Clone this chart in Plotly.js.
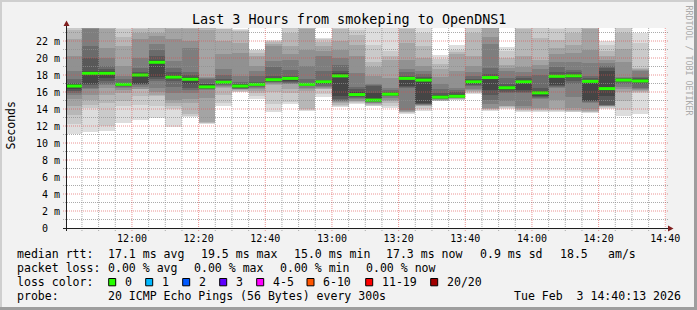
<!DOCTYPE html>
<html><head><meta charset="utf-8">
<script src="https://cdn.plot.ly/plotly-3.0.1.min.js"></script>
<style>html,body{margin:0;padding:0;background:#f2f2f2}#chart{width:697px;height:310px}</style>
</head><body><div id="chart"></div>
<script>
// ---- data ----
const firstColumnEnd = [2026, 1, 3, 11, 45, 0];   // UTC parts, step end of first column
const stepMinutes = 5;
const rangeStart = [2026, 1, 3, 11, 40, 13];
const rangeEnd = [2026, 1, 3, 14, 40, 13];

const medians = [16.7, 18.2, 18.2, 16.9, 18.0, 19.5, 17.75, 17.5, 16.6, 17.15, 16.7, 16.9,
  17.45, 17.6, 16.9, 17.2, 17.9, 15.7, 15.05, 15.75, 17.6, 17.4, 15.4, 15.5,
  17.2, 17.7, 16.5, 17.2, 15.9, 17.85, 17.9, 17.25, 16.4, 17.4, 17.3];

// 20 sorted ping times (ms) per 5-minute step
const pings = [
  [11.1,12.2,13.3,14.4,15.2,15.6,15.9,16.1,16.3,16.55,16.85,17.0,17.1,17.5,18.5,20.2,22.2,23.3,23.5,24.0],
  [11.3,14.1,14.5,15.1,15.6,16.3,16.5,16.8,16.9,18.1,18.3,18.5,20.0,21.4,23.4,23.6,23.8,24.0,24.5,25.0],
  [11.45,12.0,14.75,15.6,16.5,16.8,17.0,17.3,17.6,18.1,18.3,18.5,18.7,19.1,20.0,21.2,23.4,23.6,23.8,24.2],
  [12.4,14.35,15.0,15.9,16.2,16.5,16.6,16.7,16.75,16.8,17.0,17.05,17.1,17.5,17.9,19.1,21.4,22.5,23.4,24.0],
  [12.65,14.5,15.5,16.3,16.4,16.6,16.8,16.9,17.0,17.9,18.1,18.2,18.4,18.8,20.0,22.2,23.0,23.4,23.6,24.0],
  [12.9,14.35,15.5,15.7,16.0,16.5,17.3,17.5,17.8,19.4,19.6,19.8,20.2,21.0,21.6,22.6,23.0,23.5,23.8,24.2],
  [11.9,14.0,14.35,14.7,15.1,15.9,16.6,17.3,17.5,17.7,17.8,18.0,18.3,18.8,19.6,22.2,23.4,23.6,23.8,24.0],
  [13.1,13.2,13.4,14.75,15.2,15.9,16.2,16.5,16.9,17.45,17.6,17.8,18.0,18.3,21.2,22.0,23.4,23.6,23.8,24.0],
  [12.2,12.3,12.4,12.5,15.3,16.2,16.35,16.4,16.45,16.5,16.7,16.9,17.0,17.5,17.6,17.8,23.3,23.5,23.8,24.0],
  [14.4,14.75,15.6,16.5,16.6,16.7,16.8,16.9,17.0,17.1,17.2,17.35,17.5,18.0,18.7,20.5,22.0,23.4,23.45,23.7],
  [15.95,16.0,16.1,16.2,16.3,16.35,16.4,16.45,16.5,16.6,16.8,16.9,17.0,17.2,17.9,20.6,21.8,23.2,23.3,23.4],
  [15.2,15.5,15.9,16.1,16.3,16.5,16.6,16.7,16.8,16.85,16.95,17.1,17.2,17.9,18.5,19.1,20.2,20.6,20.9,21.0],
  [13.6,14.6,16.0,16.8,17.0,17.1,17.15,17.2,17.3,17.4,17.5,17.6,17.9,19.0,19.6,21.4,21.7,21.9,22.0,22.1],
  [14.6,14.8,15.9,16.4,16.9,17.0,17.1,17.2,17.3,17.5,17.7,17.8,17.9,18.6,19.8,20.5,21.4,23.0,23.5,24.0],
  [13.8,13.9,14.0,16.1,16.3,16.5,16.7,16.75,16.8,16.85,16.95,17.0,17.1,17.5,19.1,21.0,23.4,23.6,23.8,24.0],
  [15.4,15.8,16.3,16.4,16.5,16.6,16.7,16.9,17.0,17.15,17.25,17.3,17.4,18.5,20.2,20.8,21.4,21.9,22.2,22.4],
  [14.2,14.3,14.5,14.75,14.8,14.9,15.0,15.2,15.5,17.8,18.0,18.2,18.5,19.2,20.0,21.0,22.0,23.4,23.6,24.0],
  [14.6,14.7,14.8,14.9,15.0,15.2,15.3,15.4,15.5,15.6,15.8,16.0,16.3,16.6,18.2,20.2,21.5,22.7,23.3,23.8],
  [14.3,14.4,14.5,14.6,14.7,14.75,14.8,14.9,14.95,15.0,15.1,15.9,16.7,16.8,17.0,17.9,18.9,19.5,21.5,24.0],
  [14.15,14.3,14.75,14.9,15.1,15.3,15.5,15.55,15.6,15.7,15.8,15.9,16.0,16.2,16.5,17.7,19.8,20.2,20.8,24.0],
  [13.4,13.5,13.6,13.7,13.8,13.9,16.5,16.6,16.7,17.5,17.7,17.8,17.9,18.3,18.7,19.8,21.8,23.4,23.6,24.0],
  [13.75,14.0,14.35,14.4,14.45,14.5,14.55,14.6,14.7,17.3,17.5,17.6,17.8,18.1,18.5,19.1,20.0,21.4,23.0,24.0],
  [14.9,14.95,15.0,15.05,15.1,15.15,15.2,15.25,15.3,15.35,15.45,15.6,15.9,16.3,16.9,17.8,18.7,19.3,19.9,20.35],
  [15.05,15.1,15.15,15.2,15.25,15.3,15.35,15.4,15.45,15.5,15.6,15.8,16.0,16.2,16.5,18.5,20.5,20.7,21.0,21.5],
  [15.8,15.9,16.0,16.1,16.2,16.4,16.7,16.8,16.9,17.1,17.3,17.4,17.5,17.9,18.3,19.1,20.2,23.0,23.5,24.0],
  [13.8,13.9,14.0,14.05,14.1,14.6,15.1,15.6,16.2,17.6,17.8,17.9,18.1,18.8,21.6,22.5,23.5,23.7,23.9,24.2],
  [14.0,14.1,14.2,14.3,14.4,15.0,15.9,16.0,16.2,16.4,16.6,16.7,16.9,17.7,18.5,18.8,19.2,20.0,20.8,21.3],
  [13.7,13.8,13.9,14.0,14.1,14.4,15.9,16.0,16.2,17.1,17.3,17.4,17.6,17.9,18.4,18.9,20.2,23.4,23.6,24.0],
  [13.7,13.8,13.9,14.0,14.1,15.2,15.3,15.4,15.5,15.85,15.95,16.1,16.5,18.0,18.7,19.2,19.8,22.4,23.5,24.0],
  [13.7,13.8,13.9,14.0,15.1,16.5,16.6,16.7,16.8,17.8,17.9,18.0,18.3,19.0,19.5,20.5,21.2,22.1,23.4,24.0],
  [13.6,13.7,13.8,13.9,14.1,15.45,17.0,17.3,17.6,17.85,17.95,18.1,18.3,18.6,19.5,20.55,21.5,22.9,23.5,24.0],
  [13.5,13.6,13.7,13.8,14.0,14.75,14.8,14.9,15.0,17.2,17.3,17.4,17.6,17.9,19.4,21.0,23.4,23.6,23.8,24.0],
  [14.0,14.1,14.2,14.3,14.35,14.4,14.45,14.5,15.5,16.35,16.45,18.5,18.8,19.1,19.45,19.8,20.2,20.8,21.5,22.0],
  [13.2,13.9,15.0,16.0,16.3,16.6,17.0,17.2,17.3,17.35,17.45,17.5,17.6,17.7,17.8,19.5,21.1,22.9,23.5,24.0],
  [13.4,15.9,16.0,16.1,16.2,16.3,16.5,17.0,17.2,17.25,17.35,17.5,17.6,17.8,18.5,18.6,18.7,18.8,21.8,23.0]
];

const yTickVals = [0, 2, 4, 6, 8, 10, 12, 14, 16, 18, 20, 22];
const yTickText = ['0  ', '2 m', '4 m', '6 m', '8 m', '10 m', '12 m', '14 m', '16 m', '18 m', '20 m', '22 m'];
const yMax = 23.53;

const lossLabels = ['0', '1', '2', '3', '4-5', '6-10', '11-19', '20/20'];
const lossColors = ['#26ff00', '#00b8ff', '#0059ff', '#5e00ff', '#ff00ff', '#ff5500', '#ff0000', '#a10000'];
const medianColor = '#26ff00';

const titleText = 'Last 3 Hours from smokeping to OpenDNS1';
const statRows = [
  ['median rtt:', '17.1 ms avg', '19.5 ms max', '15.0 ms min', '17.3 ms now', '0.9 ms sd', '18.5', 'am/s'],
  ['packet loss:', '0.00 % avg', '0.00 % max', '0.00 % min', '0.00 % now'],
  ['loss color:'],
  ['probe:', '20 ICMP Echo Pings (56 Bytes) every 300s', 'Tue Feb  3 14:40:13 2026']
];

// ---- layout helpers (pixel -> paper) ----
const L = 66, T = 28, W = 600, H = 200;
const px = x => (x - L) / W;
const py = y => (T + H - y) / H;
const nb = s => s.replace(/ /g, '\u00a0');
const MONO = 'DejaVu Sans Mono';
const utc = a => Date.UTC(a[0], a[1], a[2], a[3], a[4], a[5]);

const stepMs = stepMinutes * 60000;
const end0 = utc(firstColumnEnd);
const centers = pings.map((_, i) => end0 + i * stepMs - stepMs / 2);

// smoke: band k spans ping k .. ping (21-k), darker toward the middle
const traces = [];
const half = 10;
for (let k = 1; k <= half; k++) {
  const c = Math.floor(190 / half * (half - k)) + 50;
  const hex = c.toString(16).padStart(2, '0');
  traces.push({
    type: 'bar', x: centers, base: pings.map(p => p[k - 1]),
    y: pings.map(p => p[20 - k] - p[k - 1]),
    width: pings.map(() => stepMs),
    marker: { color: '#' + hex + hex + hex, line: { width: 0 } },
    hoverinfo: 'skip'
  });
}
// median segments
const mx = [], my = [];
medians.forEach((m, i) => {
  mx.push(centers[i] - stepMs / 2, centers[i] + stepMs / 2, null);
  my.push(m, m, null);
});
traces.push({ type: 'scatter', mode: 'lines', x: mx, y: my, line: { color: medianColor, width: 3 }, hoverinfo: 'skip' });

// ---- grid (drawn above the smoke, like rrdtool) ----
const shapes = [];
const minorCol = 'rgba(143,143,143,0.75)', majorCol = 'rgba(222,79,79,0.6)';
for (let v = 1; v <= 23; v++) {
  shapes.push({ type: 'line', layer: 'above', xref: 'paper', yref: 'y', x0: px(63), x1: px(669), y0: v, y1: v,
    line: { color: v % 2 === 0 ? majorCol : minorCol, width: 1, dash: '1px,1px' } });
}
const t0 = utc(rangeStart), t1 = utc(rangeEnd);
for (let t = end0; t <= t1; t += stepMs) {
  const min = new Date(t).getUTCMinutes();
  shapes.push({ type: 'line', layer: 'above', xref: 'x', yref: 'paper', x0: t, x1: t, y0: py(231), y1: 1,
    line: { color: min % 20 === 0 ? majorCol : minorCol, width: 1, dash: '1px,1px' } });
}
// axes + arrows
const axisCol = '#1f1f1f', arrowCol = '#801f1f';
shapes.push({ type: 'line', layer: 'above', xref: 'paper', yref: 'paper', x0: px(66.5), x1: px(66.5), y0: py(231), y1: py(24), line: { color: axisCol, width: 1 } });
shapes.push({ type: 'line', layer: 'above', xref: 'paper', yref: 'paper', x0: px(63), x1: px(669), y0: py(228.5), y1: py(228.5), line: { color: axisCol, width: 1 } });
shapes.push({ type: 'path', layer: 'above', xref: 'paper', yref: 'paper',
  path: `M${px(66.5)},${py(20.5)} L${px(63.5)},${py(26)} L${px(69.5)},${py(26)} Z`, fillcolor: arrowCol, line: { width: 0 } });
shapes.push({ type: 'path', layer: 'above', xref: 'paper', yref: 'paper',
  path: `M${px(673.5)},${py(228.5)} L${px(668)},${py(225.5)} L${px(668)},${py(231.5)} Z`, fillcolor: arrowCol, line: { width: 0 } });
// image frame
shapes.push({ type: 'rect', xref: 'paper', yref: 'paper', x0: px(0), x1: px(697), y0: py(0), y1: py(2), fillcolor: '#cfcfcf', line: { width: 0 } });
shapes.push({ type: 'rect', xref: 'paper', yref: 'paper', x0: px(0), x1: px(2), y0: py(0), y1: py(310), fillcolor: '#cfcfcf', line: { width: 0 } });
shapes.push({ type: 'rect', xref: 'paper', yref: 'paper', x0: px(694), x1: px(697), y0: py(0), y1: py(310), fillcolor: '#9e9e9e', line: { width: 0 } });
shapes.push({ type: 'rect', xref: 'paper', yref: 'paper', x0: px(0), x1: px(697), y0: py(307), y1: py(310), fillcolor: '#9e9e9e', line: { width: 0 } });

// ---- texts ----
const FS = 11.55;
const annotations = [];
function txt(s, x, y, opts) {
  annotations.push(Object.assign({ text: nb(s), xref: 'paper', yref: 'paper', x: px(x), y: py(y), xanchor: 'left', yanchor: 'middle',
    showarrow: false, borderpad: 0, font: { family: MONO, size: FS, color: '#000' } }, opts || {}));
}
txt(titleText, 348.5, 19, { xanchor: 'center', font: { family: MONO, size: 13.4, color: '#000' } });
txt('Seconds', 10.5, 126, { xanchor: 'center', textangle: -90, font: { family: MONO, size: 11.5, color: '#000' } });
txt('RRDTOOL / TOBI OETIKER', 688.5, 60, { xanchor: 'center', textangle: 90, font: { family: MONO, size: 8.3, color: '#aaaaaa' } });

const rowY = [254.3, 268, 282, 295.7];
const rowX = [
  [16, 107.3, 200.3, 293.3, 385.7, 479.3, 559, 607.3],
  [16, 107.3, 193.3, 279.3, 365],
  [16],
  [16, 107.3, 513.3]
];
statRows.forEach((row, r) => row.forEach((s, j) => txt(s, rowX[r][j] - 0.5, rowY[r])));
const boxX = [108.7, 145.7, 182.7, 219.7, 256.7, 307, 365.7, 430.7];
lossLabels.forEach((lab, i) => {
  shapes.push({ type: 'rect', xref: 'paper', yref: 'paper', x0: px(boxX[i]), x1: px(boxX[i] + 7), y0: py(278.5), y1: py(285.8),
    fillcolor: lossColors[i], line: { color: '#000', width: 1 } });
  txt(lab, boxX[i] + 15, rowY[2]);
});

const layout = {
  width: 697, height: 310, margin: { l: L, r: 697 - L - W, t: T, b: 310 - T - H, pad: 0 },
  paper_bgcolor: '#f2f2f2', plot_bgcolor: '#ffffff', barmode: 'overlay', bargap: 0, showlegend: false,
  xaxis: { type: 'date', range: [t0, t1], showgrid: false, zeroline: false, showline: false, ticks: '',
    tickformat: '%H:%M', tick0: Date.UTC(2026, 1, 3, 12, 0, 0), dtick: 20 * 60000,
    tickfont: { family: MONO, size: 10, color: '#000' }, ticklabelstandoff: 3, fixedrange: true },
  yaxis: { range: [0, yMax], tickvals: yTickVals, ticktext: yTickText.map(nb), showgrid: false, zeroline: false,
    showline: false, ticks: '', tickfont: { family: MONO, size: 10, color: '#000' }, ticklabelstandoff: 5, fixedrange: true },
  shapes, annotations
};
Plotly.newPlot('chart', traces, layout, { displayModeBar: false, staticPlot: true });
</script></body></html>
